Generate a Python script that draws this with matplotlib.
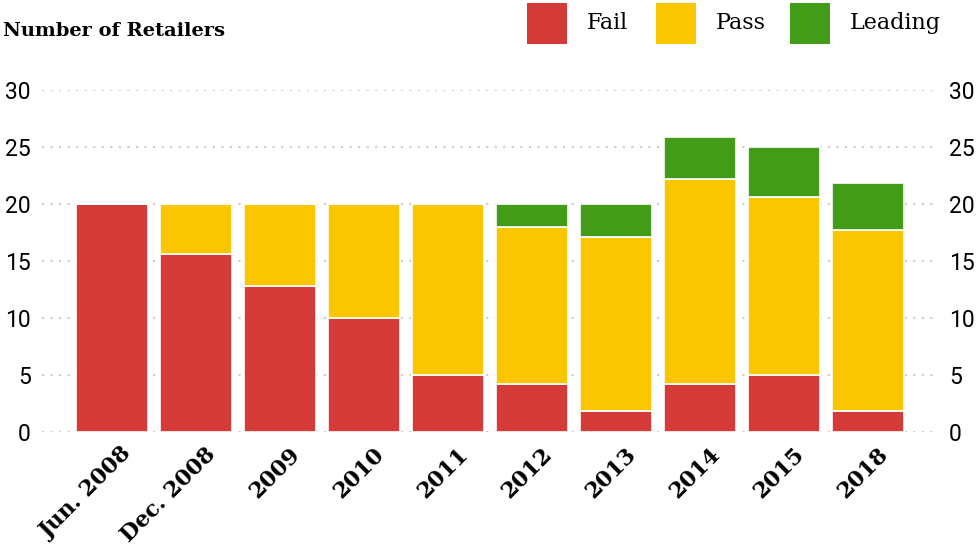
import numpy as np
from matplotlib import pyplot as plt
from matplotlib.patches import Rectangle
from matplotlib.transforms import offset_copy

years = ['Jun. 2008', 'Dec. 2008', '2009', '2010', '2011', '2012', '2013', '2014', '2015', '2018']
fail = [20, 15.6, 12.8, 10, 5, 4.2, 1.8, 4.2, 5, 1.8]
passed = [0, 4.4, 7.2, 10, 15, 13.8, 15.3, 18, 15.6, 15.9]
leading = [0, 0, 0, 0, 0, 2, 2.9, 3.7, 4.4, 4.1]

colors = {'Fail': '#d43a38', 'Pass': '#f9c600', 'Leading': '#429c17'}

fig = plt.figure(figsize=(9.78, 5.48), dpi=100)
ax = fig.add_axes([42 / 978, 116 / 548, (938 - 42) / 978, (432 - 90) / 548])

x = np.arange(len(years))
fail = np.array(fail)
passed = np.array(passed)
leading = np.array(leading)
w = 0.86
edge = dict(edgecolor='white', linewidth=1.2)
ax.bar(x, fail, w, color=colors['Fail'], **edge, zorder=3)
ax.bar(x, passed, w, bottom=fail, color=colors['Pass'], **edge, zorder=3)
ax.bar(x, leading, w, bottom=fail + passed, color=colors['Leading'], **edge, zorder=3)

ax.set_xlim(-0.83, 9.83)
ax.set_ylim(0, 30)
ax.set_yticks([0, 5, 10, 15, 20, 25, 30])
ax.yaxis.grid(True, linestyle=(0, (1, 3.1)), linewidth=1.5, color='#cccccc', zorder=0)
ax.set_axisbelow(True)
for s in ax.spines.values():
    s.set_visible(False)
ax.tick_params(axis='y', length=0, labelsize=16.5, labelright=True, pad=8)
for t in ax.get_yticklabels():
    t.set_fontfamily('Roboto')
ax.tick_params(axis='x', length=0, pad=8)
ax.set_xticks(x)
ax.set_xticklabels(years, rotation=45, ha='right', rotation_mode='anchor',
                   fontfamily='DejaVu Serif', fontweight='bold', fontsize=16)
for t in ax.get_xticklabels():
    t.set_transform(offset_copy(t.get_transform(), fig=fig, x=9, y=0, units='dots'))

fig.text(3 / 978, 1 - 31 / 548, 'Number of Retailers', fontfamily='DejaVu Serif',
         fontweight='bold', fontsize=14, va='center', ha='left')

# legend
for name, xl in zip(['Fail', 'Pass', 'Leading'], [527, 656, 790]):
    fig.add_artist(Rectangle((xl / 978, 1 - 44 / 548), 40 / 978, 41 / 548,
                             facecolor=colors[name], edgecolor='none', transform=fig.transFigure))
    fig.text((xl + 60) / 978, 1 - 23 / 548, name, fontfamily='DejaVu Serif',
             fontsize=16, va='center', ha='left')

fig.savefig('out.png', dpi=100)
